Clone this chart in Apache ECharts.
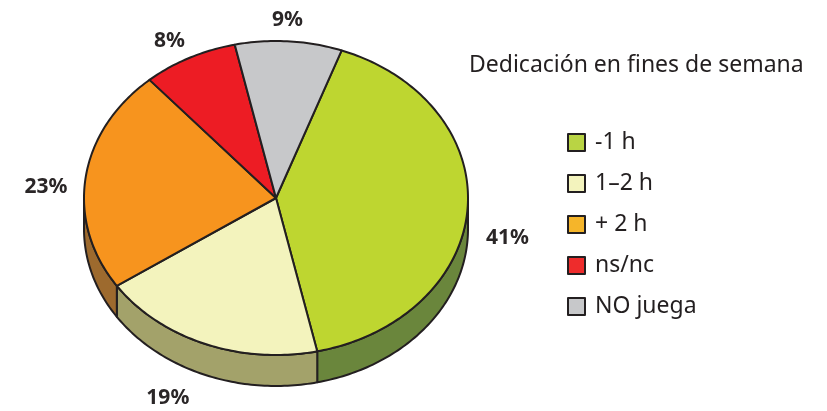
<!DOCTYPE html>
<html>
<head>
<meta charset="utf-8">
<script src="https://cdn.jsdelivr.net/npm/echarts@6/dist/echarts.min.js"></script>
<style>html,body{margin:0;padding:0;background:#fff}#c{width:827px;height:411px}</style>
</head>
<body>
<div id="c"></div>
<script>
// ---- data ----
const chartTitle = 'Dedicación en fines de semana';
const categories = ['-1 h', '1–2 h', '+ 2 h', 'ns/nc', 'NO juega'];
const values = [41, 19, 23, 8, 9];
const valueLabels = ['41%', '19%', '23%', '8%', '9%'];

// ---- styles ----
const topColors = ['#bed630', '#f3f3bd', '#f7941e', '#ed1c24', '#c7c8ca'];
const sideColors = ['#6a863c', '#a3a26a', '#9d6a2e', '#8a1a1a', '#8a8a8c'];
const legendColors = ['#b9d444', '#f3f3bd', '#f5b52a', '#ee2c2c', '#c7c8ca'];
const labelNudge = [[0, -3], [-22, 1], [0, 12], [-2, 5], [-4, 3]];
const edge = '#231f20';
const FONT = '"Noto Sans", "DejaVu Sans", sans-serif';

const geo = { cx: 276, cy: 198, rx: 192, ry: 157, depth: 31, startDeg: 20, lrx: 232, lry: 181 };

const total = values.reduce((a, b) => a + b, 0);
function pt(deg, dy) {
  const r = deg * Math.PI / 180;
  return [geo.cx + geo.rx * Math.sin(r), geo.cy - geo.ry * Math.cos(r) + (dy || 0)];
}
function arc(a, b, dy) {
  const pts = [];
  const n = Math.max(2, Math.ceil(Math.abs(b - a)));
  for (let i = 0; i <= n; i++) pts.push(pt(a + (b - a) * i / n, dy));
  return pts;
}

function renderItem(params, api) {
  const i = params.dataIndex;
  let cum = 0;
  for (let k = 0; k < i; k++) cum += values[k];
  const a = geo.startDeg + cum / total * 360;
  const b = geo.startDeg + (cum + values[i]) / total * 360;
  const children = [];
  const ranges = [[90, 270], [450, 630]];
  ranges.forEach(([lo, hi]) => {
    const s = Math.max(a, lo), e = Math.min(b, hi);
    if (e > s) {
      const pts = arc(s, e, 0).concat(arc(e, s, geo.depth));
      children.push({ type: 'polygon', shape: { points: pts },
        style: { fill: sideColors[i], stroke: edge, lineWidth: 2, lineJoin: 'round' } });
    }
  });
  const topPts = [[geo.cx, geo.cy]].concat(arc(a, b, 0));
  children.push({ type: 'polygon', shape: { points: topPts }, z2: 10,
    style: { fill: topColors[i], stroke: edge, lineWidth: 2, lineJoin: 'round' } });
  const m = (a + b) / 2 * Math.PI / 180;
  const c = Math.cos(m);
  const lx = geo.cx + geo.lrx * Math.sin(m) + labelNudge[i][0];
  const ly = geo.cy - geo.lry * c + (c < 0 ? geo.depth : 0) + labelNudge[i][1];
  children.push({ type: 'text', z2: 20,
    style: { text: valueLabels[i], x: lx, y: ly, align: 'center', verticalAlign: 'middle',
      fontSize: 21, fontWeight: 'bold', fontFamily: FONT, fill: '#2a2627' } });
  return { type: 'group', children };
}

const chart = echarts.init(document.getElementById('c'));
chart.setOption({
  animation: false,
  title: { text: chartTitle, left: 469, top: 54, padding: 0,
    textStyle: { fontSize: 23, fontWeight: 'normal', color: edge, fontFamily: FONT } },
  legend: {
    orient: 'vertical', left: 567, top: 131, padding: 0, icon: 'rect',
    itemWidth: 17, itemHeight: 17, itemGap: 18, selectedMode: false,
    itemStyle: { borderColor: edge, borderWidth: 2 },
    textStyle: { fontSize: 23, color: edge, fontFamily: FONT, padding: [0, 0, 0, 5] },
    data: categories
  },
  series: [
    { type: 'custom', coordinateSystem: 'none', renderItem,
      data: values.map((v, i) => ({ name: categories[i], value: v })) },
    { type: 'pie', radius: [0, 0], center: [-100, -100], silent: true, label: { show: false },
      data: values.map((v, i) => ({ name: categories[i], value: v, itemStyle: { color: legendColors[i] } })) }
  ]
});
</script>
</body>
</html>
